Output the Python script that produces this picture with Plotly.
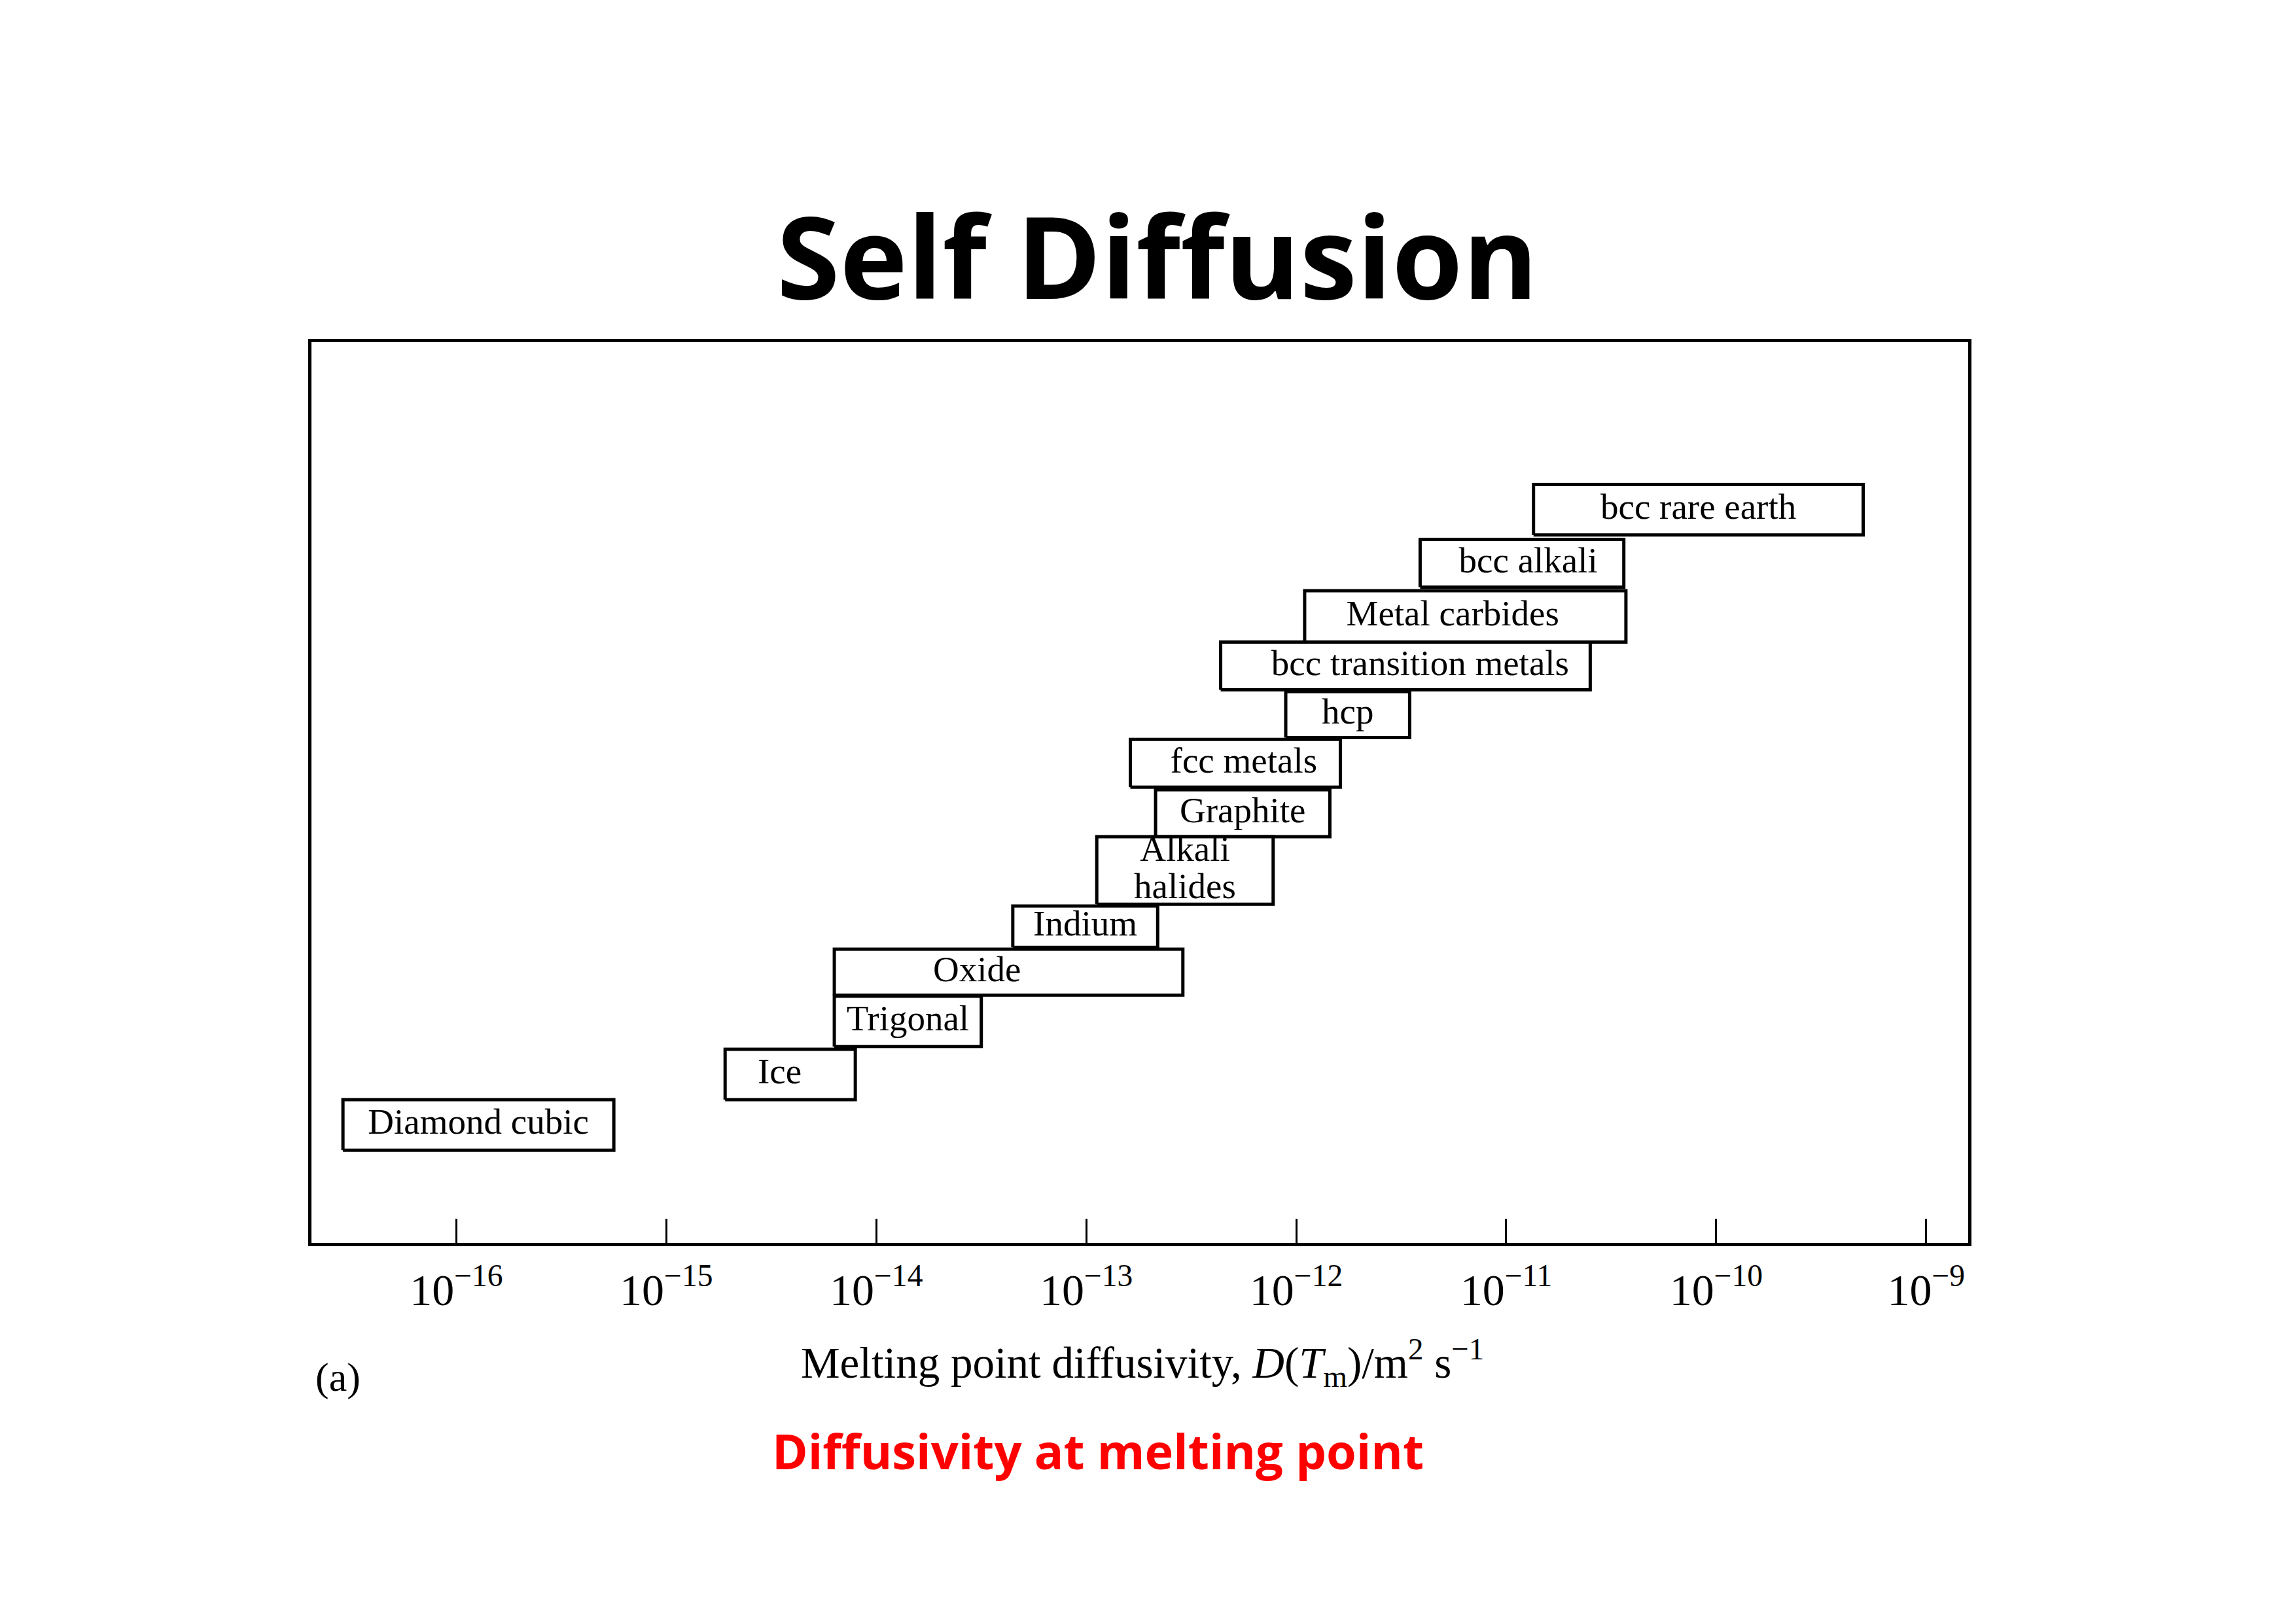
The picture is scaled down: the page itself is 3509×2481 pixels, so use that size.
import plotly.graph_objects as go

# ---- data (log10 of D(Tm) in m^2 s^-1) ----
categories = ["bcc rare earth", "bcc alkali", "Metal carbides", "bcc transition metals",
              "hcp", "fcc metals", "Graphite", "Alkali\nhalides", "Indium", "Oxide",
              "Trigonal", "Ice", "Diamond cubic"]
log_D_low = [-10.87, -11.41, -11.96, -12.36, -12.05, -12.79, -12.67, -12.95, -13.35,
             -14.20, -14.20, -14.72, -16.54]
log_D_high = [-9.30, -10.44, -10.43, -10.60, -11.46, -11.79, -11.84, -12.11, -12.66,
              -12.54, -13.50, -14.10, -15.25]
# where the label sits relative to the box centre (decades)
label_shift = [0.0, 0.03, -0.06, 0.07, 0.0, 0.04, 0.0, 0.0, 0.0, -0.15, 0.0, -0.05, 0.0]
# vertical placement of each box (arbitrary units, 0 = bottom of frame, 100 = top)
row_top = [84.2, 78.1, 72.4, 66.7, 61.2, 55.9, 50.3, 45.1, 37.4, 32.6, 27.4, 21.5, 15.9]
row_bottom = [78.6, 72.8, 66.7, 61.4, 56.1, 50.6, 45.1, 37.6, 32.8, 27.5, 21.8, 15.9, 10.3]

tick_exponents = [-16, -15, -14, -13, -12, -11, -10, -9]
tick_labels = ["10<sup>\u2212%d</sup>" % (-e) for e in tick_exponents]

SERIF = "Liberation Serif, Times New Roman, serif"
SANS_BOLD = "Open Sans, Noto Sans, sans-serif"

fig = go.Figure()

text_x, text_y, text_s = [], [], []
for name, lo, hi, top, bot, sh in zip(categories, log_D_low, log_D_high, row_top,
                                      row_bottom, label_shift):
    x0, x1 = 10 ** lo, 10 ** hi
    fig.add_trace(go.Scatter(
        x=[x0, x1, x1, x0, x0], y=[bot, bot, top, top, bot],
        mode="lines", fill="toself", fillcolor="white",
        line=dict(color="black", width=5), hoverinfo="skip", showlegend=False))
    xc = 10 ** ((lo + hi) / 2 + sh)
    yc = (top + bot) / 2
    lines = name.split("\n")
    n = len(lines)
    gap = 4.1
    for i, ln in enumerate(lines):
        text_x.append(xc)
        text_y.append(yc + gap * ((n - 1) / 2 - i))
        text_s.append(ln)

fig.add_trace(go.Scatter(
    x=text_x, y=text_y, text=text_s, mode="text",
    textfont=dict(family=SERIF, size=55, color="black"),
    hoverinfo="skip", showlegend=False))

fig.update_layout(
    width=3501, height=2473,
    margin=dict(l=468, r=501, t=515, b=581),
    paper_bgcolor="white", plot_bgcolor="white",
    xaxis=dict(
        type="log", range=[-16.69, -8.80],
        tickvals=[10 ** e for e in tick_exponents], ticktext=tick_labels,
        ticks="inside", ticklen=37, tickwidth=3, tickcolor="black",
        tickfont=dict(family=SERIF, size=68, color="black"),
        showline=True, linecolor="black", linewidth=5, mirror=True,
        showgrid=False, zeroline=False, ticklabelstandoff=8),
    yaxis=dict(
        range=[0, 100], showticklabels=False, ticks="",
        showline=True, linecolor="black", linewidth=5, mirror=True,
        showgrid=False, zeroline=False),
    annotations=[
        dict(text="Self Diffusion", xref="paper", yref="paper", x=0.5107, y=1.0973,
             xanchor="center", yanchor="middle", showarrow=False,
             font=dict(family=SANS_BOLD, size=175, color="black", weight=700)),
        dict(text="Melting point diffusivity, <i>D</i>(<i>T</i><sub>m</sub>)/m<sup>2</sup> s<sup>\u22121</sup>",
             xref="paper", yref="paper", x=0.5016, y=-0.1329,
             xanchor="center", yanchor="middle", showarrow=False,
             font=dict(family=SERIF, size=67, color="black")),
        dict(text="(a)", xref="paper", yref="paper", x=0.0158, y=-0.1489,
             xanchor="center", yanchor="middle", showarrow=False,
             font=dict(family=SERIF, size=62, color="black")),
        dict(text="Diffusivity at melting point", xref="paper", yref="paper",
             x=0.4747, y=-0.2309, xanchor="center", yanchor="middle", showarrow=False,
             font=dict(family=SANS_BOLD, size=74, color="#ff0000", weight=700)),
    ],
)

fig.write_html("out.html", config={"displayModeBar": False})
